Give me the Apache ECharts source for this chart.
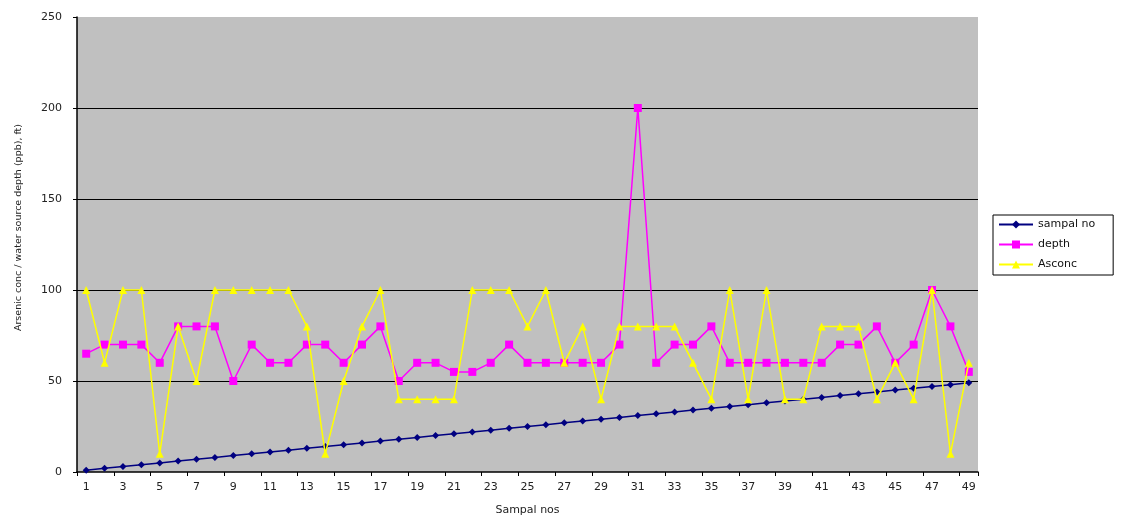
<!DOCTYPE html>
<html>
<head>
<meta charset="utf-8">
<script src="https://cdn.jsdelivr.net/npm/echarts@6/dist/echarts.min.js"></script>
<style>html,body{margin:0;padding:0;background:#fff;}#c{width:1122px;height:518px;}</style>
</head>
<body>
<div id="c"></div>
<script>
const categories = ['1','2','3','4','5','6','7','8','9','10','11','12','13','14','15','16','17','18','19','20','21','22','23','24','25','26','27','28','29','30','31','32','33','34','35','36','37','38','39','40','41','42','43','44','45','46','47','48','49'];
const sampalNo = [1,2,3,4,5,6,7,8,9,10,11,12,13,14,15,16,17,18,19,20,21,22,23,24,25,26,27,28,29,30,31,32,33,34,35,36,37,38,39,40,41,42,43,44,45,46,47,48,49];
const depth = [65,70,70,70,60,80,80,80,50,70,60,60,70,70,60,70,80,50,60,60,55,55,60,70,60,60,60,60,60,70,200,60,70,70,80,60,60,60,60,60,60,70,70,80,60,70,100,80,55];
const asconc = [100,60,100,100,10,80,50,100,100,100,100,100,80,10,50,80,100,40,40,40,40,100,100,100,80,100,60,80,40,80,80,80,80,60,40,100,40,100,40,40,80,80,80,40,60,40,100,10,60];
const yTicks = [0,50,100,150,200,250];

const chart = echarts.init(document.getElementById('c'));
const font = 'DejaVu Sans, Liberation Sans, Arial, sans-serif';
chart.setOption({
  animation: false,
  textStyle: {fontFamily: font},
  grid: {left: 77, right: 144, top: 17, bottom: 46, show: true, backgroundColor: '#c0c0c0', borderWidth: 0,
    outerBoundsMode: 'none', containLabel: false},
  legend: {
    orient: 'vertical', left: 993, top: 215,
    borderColor: '#000', borderWidth: 1, padding: [4, 18, 5, 5], itemGap: 9,
    itemWidth: 34, itemHeight: 10,
    textStyle: {fontSize: 11, color: '#111', fontFamily: font},
    data: ['sampal no', 'depth', 'Asconc']
  },
  xAxis: {
    type: 'category', data: categories, boundaryGap: true,
    name: 'Sampal nos', nameLocation: 'middle', nameGap: 33,
    nameTextStyle: {fontSize: 11, color: '#222', fontFamily: font},
    axisLine: {lineStyle: {color: '#000', width: 1.5}},
    axisTick: {show: true, length: 4, lineStyle: {color: '#000'}},
    axisLabel: {interval: 1, fontSize: 11, color: '#222', margin: 10, fontFamily: font},
    splitLine: {show: false}
  },
  yAxis: {
    type: 'value', min: 0, max: 250, interval: 50,
    name: 'Arsenic conc / water source depth (ppb), ft)', nameLocation: 'middle', nameGap: 53,
    nameTextStyle: {fontSize: 9.5, color: '#222', fontFamily: font, padding: [0, 0, 0, 34]},
    axisLine: {show: true, lineStyle: {color: '#000', width: 1.5}},
    axisTick: {show: true, length: 4, lineStyle: {color: '#000'}},
    axisLabel: {fontSize: 11, color: '#222', margin: 15, fontFamily: font,
      formatter: v => yTicks.includes(v) ? String(v) : ''},
    splitLine: {show: true, lineStyle: {color: '#000', width: 1.2},
      showMinLine: false, showMaxLine: false}
  },
  series: [
    {name: 'sampal no', type: 'line', data: sampalNo, color: '#000080',
      symbol: 'diamond', symbolSize: 7, lineStyle: {width: 1.5, color: '#000080'},
      itemStyle: {color: '#000080'}, z: 3},
    {name: 'depth', type: 'line', data: depth, color: '#ff00ff',
      symbol: 'rect', symbolSize: 8, lineStyle: {width: 1.5, color: '#ff00ff'},
      itemStyle: {color: '#ff00ff'}, z: 2},
    {name: 'Asconc', type: 'line', data: asconc, color: '#ffff00',
      symbol: 'triangle', symbolSize: 8, lineStyle: {width: 1.5, color: '#ffff00'},
      itemStyle: {color: '#ffff00'}, z: 4}
  ]
});
</script>
</body>
</html>
